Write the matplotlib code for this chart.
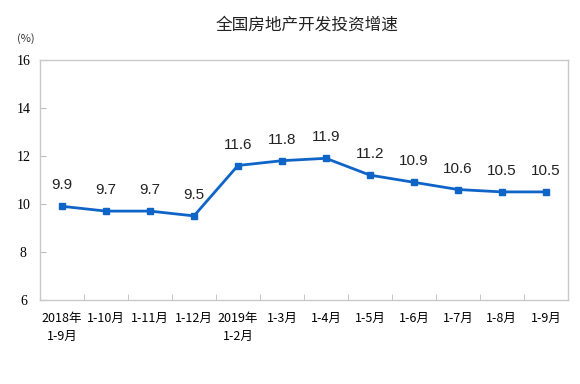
import matplotlib
matplotlib.use("Agg")
import matplotlib.pyplot as plt

categories = ["2018年\n1-9月", "1-10月", "1-11月", "1-12月", "2019年\n1-2月", "1-3月",
              "1-4月", "1-5月", "1-6月", "1-7月", "1-8月", "1-9月"]
growth = [9.9, 9.7, 9.7, 9.5, 11.6, 11.8, 11.9, 11.2, 10.9, 10.6, 10.5, 10.5]
y_ticks = [6, 8, 10, 12, 14, 16]

cjk = ["Noto Sans CJK SC", "DejaVu Sans"]
blue = "#0f64c8"

fig = plt.figure(figsize=(5.8, 3.84), dpi=100)
ax = fig.add_axes([0.069, 0.219, 0.91, 0.625])

x = list(range(len(categories)))
ax.plot(x, growth, color=blue, linewidth=2, marker="s", markersize=5)

for xi, v in zip(x, growth):
    ax.annotate(f"{v}", (xi, v), xytext=(0, 10), textcoords="offset points",
                ha="center", va="bottom", fontsize=11,
                family="Liberation Sans", color="#222222")

ax.set_xlim(-0.5, len(categories) - 0.5)
ax.set_ylim(6, 16)
ax.set_yticks(y_ticks)
ax.set_yticklabels([str(t) for t in y_ticks], family="Liberation Serif", fontsize=10)

# category labels centred, tick marks on the boundaries
ax.set_xticks(x)
ax.set_xticklabels(categories, family=cjk, fontsize=9, linespacing=1.5, va="top")
ax.tick_params(axis="x", which="major", length=0, pad=9)
ax.set_xticks([i + 0.5 for i in x[:-1]], minor=True)
ax.tick_params(axis="x", which="minor", direction="in", length=4, color="#bbbbbb")
ax.tick_params(axis="y", direction="in", length=4, color="#bbbbbb", pad=12)
for lbl in ax.get_yticklabels():
    lbl.set_horizontalalignment("center")

for s in ax.spines.values():
    s.set_color("#c8c8c8")
    s.set_linewidth(1)

fig.text(0.53, 0.935, "全国房地产开发投资增速", ha="center", va="center",
         family=cjk, fontsize=12, fontweight="medium", color="#222222")
fig.text(0.045, 0.9, "(%)", ha="center", va="center", family=cjk, fontsize=8,
         color="#333333")

fig.savefig("out.png", dpi=100)
